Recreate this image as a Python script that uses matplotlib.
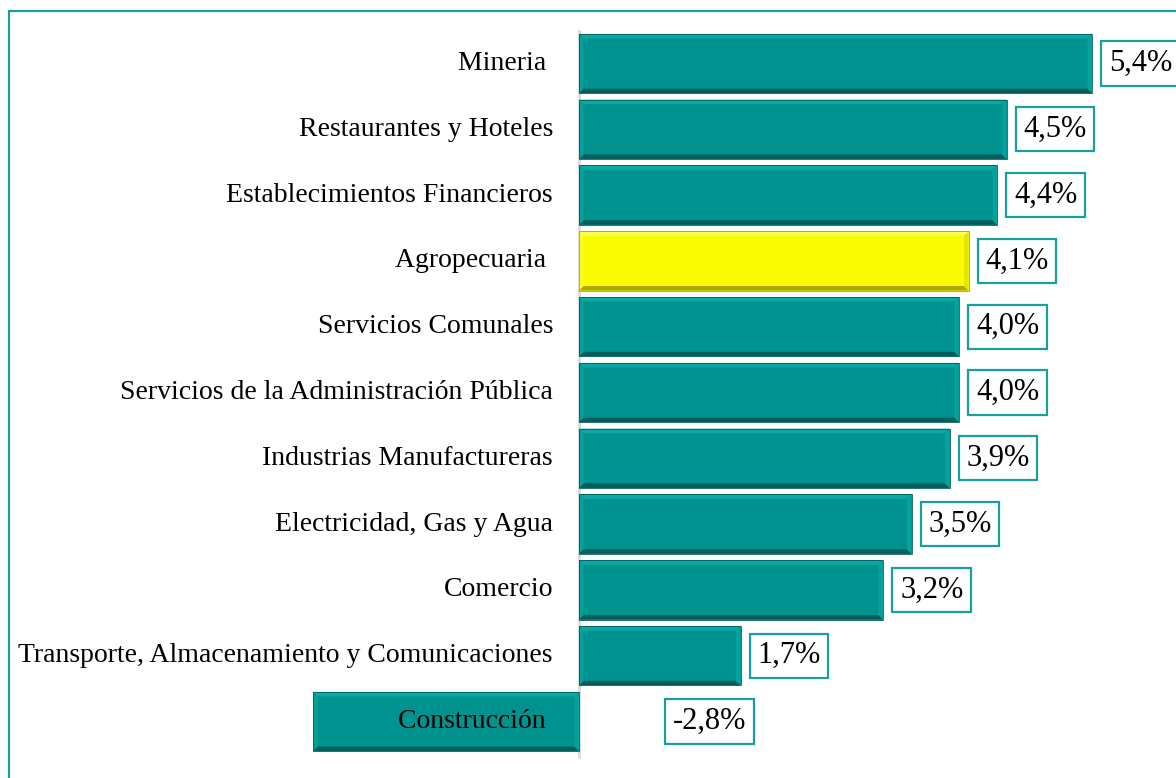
import matplotlib
matplotlib.use("Agg")
import matplotlib.pyplot as plt
from matplotlib.patches import Polygon, Rectangle

categories = ["Mineria ", "Restaurantes y Hoteles", "Establecimientos Financieros",
              "Agropecuaria ", "Servicios Comunales",
              "Servicios de la Administración Pública", "Industrias Manufactureras",
              "Electricidad, Gas y Agua", "Comercio",
              "Transporte, Almacenamiento y Comunicaciones", "Construcción "]
values = [5.4, 4.5, 4.4, 4.1, 4.0, 4.0, 3.9, 3.5, 3.2, 1.7, -2.8]
value_labels = ["5,4%", "4,5%", "4,4%", "4,1%", "4,0%", "4,0%", "3,9%", "3,5%",
                "3,2%", "1,7%", "-2,8%"]
highlight = "Agropecuaria "

W, H = 1176, 778
fig = plt.figure(figsize=(W / 100, H / 100), dpi=100)
plt.rcParams['font.family'] = ['Liberation Serif', 'DejaVu Serif']

# layout in pixels
zero_px, ppu = 579.0, 95.0
ax_l, ax_r = 300.0, 1176.0
top_c, bot_c = 63.5, 721.5
n = len(categories)
step = (bot_c - top_c) / (n - 1)
ax_top = top_c - 0.6 * step
ax_bot = bot_c + 0.6 * step
ax = fig.add_axes([ax_l / W, (H - ax_bot) / H, (ax_r - ax_l) / W, (ax_bot - ax_top) / H])
ax.set_xlim((ax_l - zero_px) / ppu, (ax_r - zero_px) / ppu)
ax.set_ylim(n - 1 + 0.6, -0.6)
ax.axis("off")

teal = dict(main="#00928E", top="#0AA9A5", left="#04A09C", right="#02A29E", bot="#005F5C")
yel = dict(main="#FAFA00", top="#FFFF50", left="#FFFF20", right="#E6E600", bot="#A9A900")

ypos = list(range(n))
colors = [yel["main"] if c == highlight else teal["main"] for c in categories]
bars = ax.barh(ypos, values, height=0.9, color=colors, edgecolor="none", zorder=2)

# bevel effect
bx = 4.5 / ppu
by = 4.5 / step
for b, c in zip(bars, categories):
    pal = yel if c == highlight else teal
    x0, x1 = sorted([b.get_x(), b.get_x() + b.get_width()])
    y0 = b.get_y()
    y1 = y0 + b.get_height()
    # y axis inverted: y0 is visual top
    polys = [
        ([(x0, y0), (x1, y0), (x1 - bx, y0 + by), (x0 + bx, y0 + by)], pal["top"]),
        ([(x0, y1), (x1, y1), (x1 - bx, y1 - by), (x0 + bx, y1 - by)], pal["bot"]),
        ([(x0, y0), (x0 + bx, y0 + by), (x0 + bx, y1 - by), (x0, y1)], pal["left"]),
        ([(x1, y0), (x1 - bx, y0 + by), (x1 - bx, y1 - by), (x1, y1)], pal["right"]),
    ]
    for pts, col in polys:
        ax.add_patch(Polygon(pts, closed=True, facecolor=col, edgecolor="none", zorder=3))
    ax.add_patch(Rectangle((x0, y0), x1 - x0, y1 - y0, fill=False,
                           edgecolor=pal["bot"], linewidth=0.6, zorder=4))

ax.axvline(0, ymin=0.005, ymax=0.99, color="#D9D9D9", lw=2, zorder=1)

for y, c in zip(ypos, categories):
    ax.annotate(c, xy=(0, y), xytext=(-26 * 0.72, 0), textcoords="offset points",
                ha="right", va="center", fontsize=20, color="black", zorder=5)

for y, v, lab in zip(ypos, values, value_labels):
    if v >= 0:
        xy, off = (v, y), 17 * 0.72
    else:
        xy, off = (0, y), 94 * 0.72
    ax.annotate(lab, xy=xy, xytext=(off, 0), textcoords="offset points",
                ha="left", va="center", fontsize=22, color="black", zorder=5,
                bbox=dict(boxstyle="square,pad=0.25", facecolor="white",
                          edgecolor="#17A09C", linewidth=1.6))

# outer border
fig.patches.append(Rectangle((9 / W, -0.05), 1.2, 1.05 - 11 / H, transform=fig.transFigure,
                             fill=False, edgecolor="#17A09C", linewidth=1.6, zorder=0))

fig.savefig("out.png", dpi=100)
